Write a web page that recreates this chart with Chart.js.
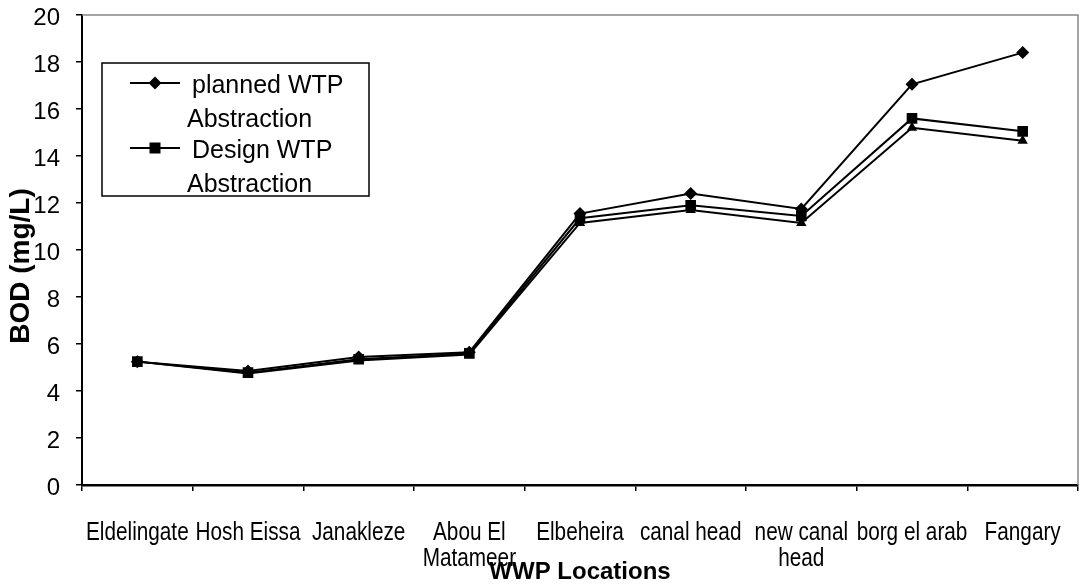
<!DOCTYPE html>
<html>
<head>
<meta charset="utf-8">
<script src="https://cdn.jsdelivr.net/npm/chart.js@4/dist/chart.umd.min.js"></script>
<style>
  html, body { margin: 0; padding: 0; background: #fff; overflow: hidden; }
  #wrap { width: 1080px; height: 586px; }
</style>
</head>
<body>
<div id="wrap"><canvas id="bodChart"></canvas></div>
<script>
const locations = ['Eldelingate', 'Hosh Eissa', 'Janakleze', ['Abou El', 'Matameer'], 'Elbeheira',
    'canal head', ['new canal', 'head'], 'borg el arab', 'Fangary'];
const plannedWTP = [5.25, 4.85, 5.45, 5.65, 11.55, 12.4, 11.75, 17.05, 18.4];
const designWTP = [5.25, 4.78, 5.35, 5.6, 11.35, 11.9, 11.45, 15.6, 15.05];
const thirdSeries = [5.25, 4.75, 5.3, 5.55, 11.15, 11.7, 11.15, 15.2, 14.65];
const yTicks = [0, 2, 4, 6, 8, 10, 12, 14, 16, 18, 20];

const font = "'Liberation Sans', Arial, sans-serif";

function marker(ctx, style, x, y) {
    ctx.beginPath();
    if (style === 'rectRot') {
        ctx.moveTo(x, y - 6.5); ctx.lineTo(x + 6.5, y); ctx.lineTo(x, y + 6.5); ctx.lineTo(x - 6.5, y);
    } else if (style === 'rect') {
        ctx.rect(x - 5.5, y - 5.5, 11, 11);
    } else {
        ctx.moveTo(x, y - 6); ctx.lineTo(x + 5.5, y + 4); ctx.lineTo(x - 5.5, y + 4);
    }
    ctx.closePath();
    ctx.fill();
}

// legend box inside the plot, only the labelled series
const boxLegend = {
    id: 'boxLegend',
    afterDraw(chart) {
        const ctx = chart.ctx;
        ctx.save();
        ctx.fillStyle = '#fff';
        ctx.fillRect(102, 63, 267, 133);
        ctx.strokeStyle = '#000';
        ctx.lineWidth = 1.5;
        ctx.strokeRect(102, 63, 267, 133);
        ctx.font = '25px ' + font;
        ctx.textBaseline = 'alphabetic';
        let y = 83;
        chart.data.datasets.forEach(ds => {
            if (!ds.legendLines) return;
            ctx.strokeStyle = '#000';
            ctx.lineWidth = 2;
            ctx.beginPath();
            ctx.moveTo(130, y); ctx.lineTo(180, y);
            ctx.stroke();
            ctx.fillStyle = '#000';
            marker(ctx, ds.pointStyle, 155, y);
            ctx.fillText(ds.legendLines[0], 192, y + 10);
            ctx.fillText(ds.legendLines[1], 187, y + 44);
            y += 65;
        });
        ctx.restore();
    }
};

// grey frame on top/right, condensed category labels and rotated y title
const frame = {
    id: 'frame',
    afterDraw(chart) {
        const { ctx, chartArea: a } = chart;
        const xs = chart.scales.x;
        ctx.save();
        ctx.strokeStyle = '#888';
        ctx.lineWidth = 1.5;
        ctx.beginPath();
        ctx.moveTo(a.left, a.top); ctx.lineTo(a.right, a.top); ctx.lineTo(a.right, a.bottom);
        ctx.stroke();

        ctx.fillStyle = '#000';
        ctx.textAlign = 'center';
        ctx.textBaseline = 'alphabetic';
        ctx.font = '25px ' + font;
        chart.data.labels.forEach((lab, i) => {
            const lines = Array.isArray(lab) ? lab : [lab];
            const x = xs.getPixelForValue(i);
            lines.forEach((t, k) => {
                ctx.save();
                ctx.translate(x, 540 + k * 26);
                ctx.scale(0.83, 1);
                ctx.fillText(t, 0, 0);
                ctx.restore();
            });
        });

        ctx.translate(21, 266);
        ctx.rotate(-Math.PI / 2);
        ctx.font = 'bold 28px ' + font;
        ctx.textBaseline = 'middle';
        ctx.fillText('BOD (mg/L)', 0, 0);
        ctx.restore();
    }
};

const ctx = document.getElementById('bodChart').getContext('2d');
new Chart(ctx, {
    type: 'line',
    data: {
        labels: locations,
        datasets: [{
            label: 'planned WTP Abstraction',
            legendLines: ['planned WTP', 'Abstraction'],
            data: plannedWTP,
            pointStyle: 'rectRot',
            pointRadius: 6.5,
        }, {
            label: 'Design WTP Abstraction',
            legendLines: ['Design WTP', 'Abstraction'],
            data: designWTP,
            pointStyle: 'rect',
            pointRadius: 7.5,
        }, {
            label: '',
            data: thirdSeries,
            pointStyle: 'triangle',
            pointRadius: 6,
        }].map(ds => Object.assign({
            borderColor: '#000',
            backgroundColor: '#000',
            borderWidth: 2,
            pointBorderWidth: 0,
            pointBackgroundColor: '#000',
            tension: 0,
        }, ds))
    },
    options: {
        responsive: true,
        maintainAspectRatio: false,
        animation: false,
        layout: { autoPadding: false, padding: { top: 15, right: 2, left: 0, bottom: 0 } },
        plugins: {
            legend: { display: false },
            tooltip: { enabled: false }
        },
        scales: {
            x: {
                offset: true,
                grid: { display: true, drawOnChartArea: false, drawTicks: true, tickLength: 6, color: '#000', lineWidth: 1.5, offset: true },
                border: { display: true, color: '#000', width: 2.5 },
                ticks: { display: false, autoSkip: false },
                title: {
                    display: true, text: 'WWP Locations', color: '#000', padding: 0,
                    font: { family: font, size: 24, weight: 'bold', lineHeight: 1.1 }
                },
                afterFit: s => {
                    s.height = 101;
                    s.paddingLeft = 0; s.paddingRight = 0;
                }
            },
            y: {
                min: 0,
                max: 20,
                afterBuildTicks: s => { s.ticks = yTicks.map(v => ({ value: v })); },
                grid: { drawOnChartArea: false, drawTicks: true, tickLength: 6, color: '#000', lineWidth: 1.5 },
                border: { display: true, color: '#000', width: 2 },
                ticks: {
                    color: '#000', padding: 16, labelOffset: 3,
                    font: { family: font, size: 24 }
                },
                afterFit: s => {
                    s.width = 82;
                    s.paddingTop = 0; s.paddingBottom = 0;
                }
            }
        }
    },
    plugins: [boxLegend, frame]
});
</script>
</body>
</html>
